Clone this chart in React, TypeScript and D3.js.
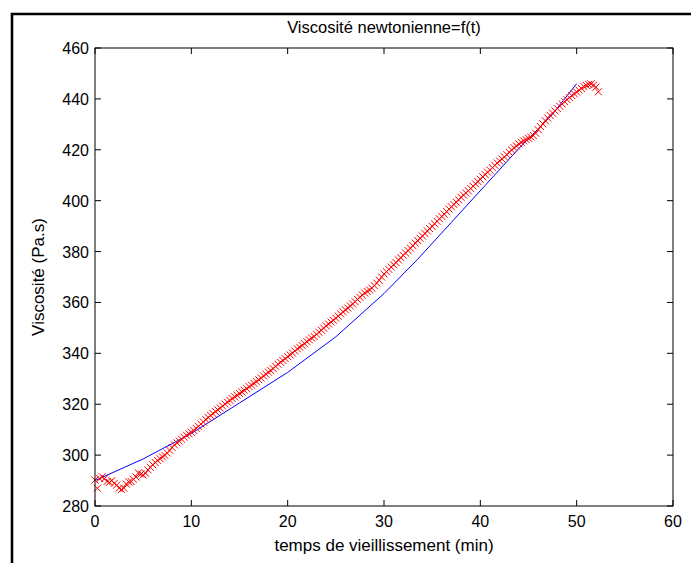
import * as d3 from 'd3'

const W = 691
const H = 563

// measured viscosity, one sample every 15 s (min)
const SAMPLE_MIN = 0.25
const viscosity = [
  // 0 - 5 min
  290.2, 287.0, 290.8, 291.5, 290.8, 289.6, 289.3, 290.0, 288.9, 288.2,
  287.0, 286.5, 287.0, 288.6, 289.5, 289.6, 290.5, 291.4, 293.0, 292.5,
  // 5 - 10
  292.2, 292.9, 294.2, 295.2, 296.2, 297.1, 297.9, 298.6, 299.3, 299.9,
  300.8, 301.9, 303.0, 304.0, 304.8, 305.5, 306.2, 307.0, 307.8, 308.4,
  // 10 - 15
  309.0, 309.7, 310.5, 311.3, 312.2, 313.0, 314.0, 314.8, 315.6, 316.3,
  317.1, 317.8, 318.5, 319.3, 320.1, 320.8, 321.5, 322.2, 322.9, 323.5,
  // 15 - 20
  324.2, 324.8, 325.5, 326.1, 326.9, 327.5, 328.2, 328.9, 329.6, 330.3,
  331.1, 331.8, 332.6, 333.2, 334.0, 334.9, 335.7, 336.5, 337.2, 337.9,
  // 20 - 25
  338.7, 339.4, 340.1, 340.9, 341.8, 342.4, 343.1, 343.8, 344.6, 345.3,
  346.0, 346.6, 347.5, 348.3, 349.1, 349.9, 350.8, 351.5, 352.3, 353.0,
  // 25 - 30
  353.8, 354.6, 355.5, 356.3, 357.1, 357.8, 358.6, 359.4, 360.3, 361.2,
  362.0, 362.9, 363.7, 364.3, 364.9, 365.6, 366.6, 367.6, 368.7, 370.0,
  // 30 - 35
  371.2, 372.1, 373.0, 373.9, 374.8, 375.7, 376.7, 377.6, 378.5, 379.4,
  380.4, 381.3, 382.3, 383.3, 384.3, 385.2, 386.1, 387.1, 388.1, 389.0,
  // 35 - 40
  389.9, 390.9, 391.9, 392.9, 393.8, 394.7, 395.7, 396.7, 397.6, 398.5,
  399.4, 400.3, 401.3, 402.2, 403.0, 403.9, 404.8, 405.7, 406.6, 407.5,
  // 40 - 45
  408.4, 409.4, 410.3, 411.2, 412.0, 413.0, 413.9, 414.8, 415.6, 416.4,
  417.2, 418.1, 419.0, 419.9, 420.8, 421.5, 422.3, 422.9, 423.5, 424.0,
  // 45 - 50
  424.5, 425.0, 425.6, 426.5, 427.9, 429.1, 430.2, 431.4, 432.5, 433.5,
  434.4, 435.3, 436.2, 437.1, 438.0, 438.9, 439.7, 440.5, 441.3, 442.0,
  // 50 - 52.25
  442.7, 443.4, 444.1, 444.8, 445.3, 445.7, 445.9, 445.4, 444.6, 442.8,
]

// newtonian model curve
const fitTime = [0, 5, 10, 15, 20, 25, 30, 33.5, 37, 40.5, 44, 47.5, 50]
const fitVisc = [290, 298.5, 308.5, 320.5, 332.5, 346.5, 363.5, 377, 391.5, 406, 420.5, 434, 446]

const xTicks = [0, 10, 20, 30, 40, 50, 60]
const yTicks = [280, 300, 320, 340, 360, 380, 400, 420, 440, 460]

const FONT = '"Liberation Sans", Arial, Helvetica, sans-serif'

export default function App() {
  const left = 95
  const right = 673
  const top = 48
  const bottom = 506
  const tick = 6

  const x = d3.scaleLinear().domain([0, 60]).range([left, right])
  const y = d3.scaleLinear().domain([280, 460]).range([bottom, top])

  const fitLine = d3
    .line<number>()
    .x((_, i) => x(fitTime[i]))
    .y(d => y(d))(fitVisc) ?? ''

  const m = 3.5

  return (
    <svg
      width={W}
      height={H}
      style={{ position: 'absolute', left: 0, top: 0, background: '#fff' }}
      fontFamily={FONT}
    >
      <rect x={0} y={0} width={W} height={H} fill="#fff" />
      {/* figure frame, cut by the page edge */}
      <path d={`M12,${H + 5} V14 H${W + 5}`} fill="none" stroke="#000" strokeWidth={2.6} />

      <path d={fitLine} fill="none" stroke="#0000ff" strokeWidth={1} />

      <g stroke="#ff0000" strokeWidth={1}>
        {viscosity.map((v, i) => {
          const cx = x(i * SAMPLE_MIN)
          const cy = y(v)
          return (
            <path
              key={i}
              d={`M${cx - m},${cy - m}L${cx + m},${cy + m}M${cx - m},${cy + m}L${cx + m},${cy - m}`}
            />
          )
        })}
      </g>

      <rect x={left} y={top} width={right - left} height={bottom - top} fill="none" stroke="#000" strokeWidth={1} />

      <g stroke="#000" strokeWidth={1}>
        {xTicks.map(t => (
          <g key={t}>
            <line x1={x(t)} x2={x(t)} y1={bottom} y2={bottom - tick} />
            <line x1={x(t)} x2={x(t)} y1={top} y2={top + tick} />
          </g>
        ))}
        {yTicks.map(t => (
          <g key={t}>
            <line x1={left} x2={left + tick} y1={y(t)} y2={y(t)} />
            <line x1={right} x2={right - tick} y1={y(t)} y2={y(t)} />
          </g>
        ))}
      </g>

      <g fontSize={16} fill="#000">
        {xTicks.map(t => (
          <text key={t} x={x(t)} y={bottom + 21} textAnchor="middle">
            {t}
          </text>
        ))}
        {yTicks.map(t => (
          <text key={t} x={left - 6} y={y(t) + 6} textAnchor="end">
            {t}
          </text>
        ))}
      </g>

      <text x={(left + right) / 2} y={33} textAnchor="middle" fontSize={16.5}>
        Viscosité newtonienne=f(t)
      </text>
      <text x={(left + right) / 2} y={551} textAnchor="middle" fontSize={17}>
        temps de vieillissement (min)
      </text>
      <text
        transform={`translate(44,${(top + bottom) / 2}) rotate(-90)`}
        textAnchor="middle"
        fontSize={17}
      >
        Viscosité (Pa.s)
      </text>
    </svg>
  )
}
